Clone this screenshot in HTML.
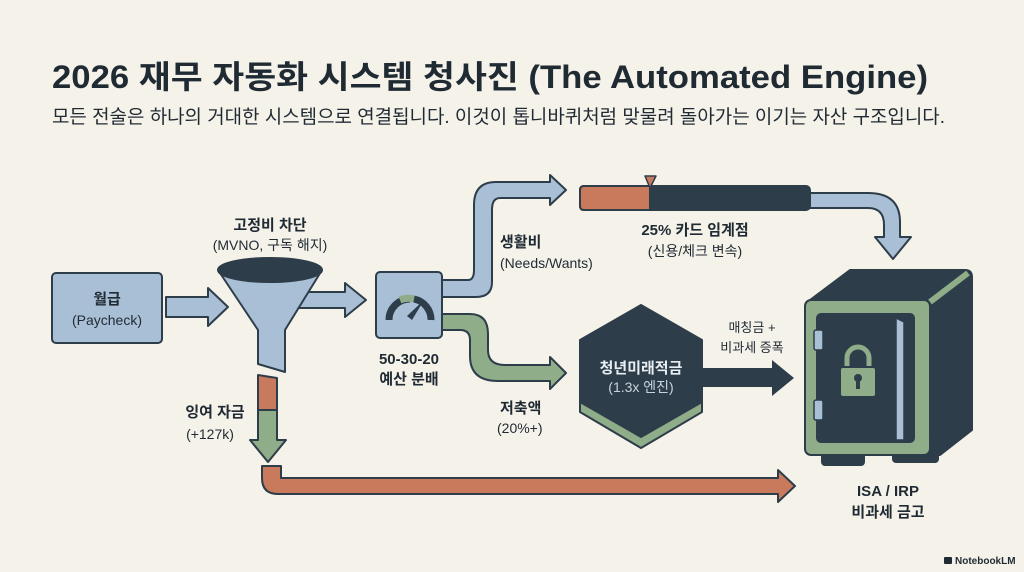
<!DOCTYPE html>
<html><head><meta charset="utf-8"><style>
html,body{margin:0;padding:0;background:#f5f2ea;}
svg{display:block;}
text{font-family:"Liberation Sans","Noto Sans CJK KR",sans-serif;fill:#1f2a33;}
.b{font-weight:bold;}
</style></head><body>
<svg width="1024" height="572" viewBox="0 0 1024 572" xmlns="http://www.w3.org/2000/svg">
<rect width="1024" height="572" fill="#f5f2ea"/>
<text x="52" y="88" font-size="32" class="b" textLength="876" lengthAdjust="spacingAndGlyphs">2026 재무 자동화 시스템 청사진 (The Automated Engine)</text>
<text x="52" y="123" font-size="19" textLength="893" lengthAdjust="spacingAndGlyphs">모든 전술은 하나의 거대한 시스템으로 연결됩니다. 이것이 톱니바퀴처럼 맞물려 돌아가는 이기는 자산 구조입니다.</text>

<g stroke="#2e3d4a" stroke-width="2" stroke-linejoin="round">
<!-- salary box -->
<rect x="52" y="273" width="110" height="70" rx="4" fill="#a9bfd6"/>
<!-- arrow salary->funnel -->
<path d="M166,297 H208 V288 L228,307 L208,326 V317 H166 Z" fill="#a9bfd6"/>
<!-- funnel->gauge arrow -->
<path d="M290,292 H345 V283 L366,300 L345,317 V308 H290 Z" fill="#a9bfd6"/>
<!-- funnel -->
<path d="M218,270 L258,330 L258,364 L285,372 L285,330 L322,270 Z" fill="#a9bfd6"/>
<ellipse cx="270" cy="270" rx="52" ry="12" fill="#2e3d4a"/>
<!-- surplus vertical -->
<path d="M258,375 L277,378 L277,410 L258,410 Z" fill="#c97a5c"/>
<path d="M258,410 H277 V440 H286 L268,462 L250,440 H258 Z" fill="#8fad88"/>
<!-- orange L -->
<path d="M262,466 V478 Q262,494 278,494 H778 V502 L795,486 L778,470 V478 H281 Q281,478 281,466 Z" fill="#c97a5c"/>
<!-- blue up path -->
<path d="M442,280 H468 Q474,280 474,270 V205 Q474,182 496,182 H550 V175 L566,190 L550,205 V198 H500 Q492,198 492,210 V282 Q492,297 476,297 H442 Z" fill="#a9bfd6"/>
<!-- green down path -->
<path d="M442,314 H470 Q488,314 488,334 V350 Q488,365 505,365 H550 V357 L566,373 L550,389 V381 H498 Q470,381 470,356 V340 Q470,330 460,330 H442 Z" fill="#8fad88"/>
<!-- gauge box -->
<rect x="376" y="272" width="66" height="66" rx="4" fill="#a9bfd6"/>
</g>
<!-- gauge -->
<path d="M389,320 A21,21 0 0 1 410,299" fill="none" stroke="#2e3d4a" stroke-width="7"/>
<path d="M400,300 A21,21 0 0 1 414,299" fill="none" stroke="#8fad88" stroke-width="7"/>
<path d="M414,299 A21,21 0 0 1 431,320" fill="none" stroke="#2e3d4a" stroke-width="7"/>
<path d="M407,316 L424,300 L412,320 Z" fill="#2e3d4a"/>

<g stroke="#2e3d4a" stroke-width="2" stroke-linejoin="round">
<!-- bar to safe path -->
<path d="M805,193 H868 Q900,193 900,222 V237 H911 L893,259 L875,237 H884 V225 Q884,208 868,208 H805 Z" fill="#a9bfd6"/>
<!-- bar -->
<rect x="580" y="186" width="230" height="24" rx="4" fill="#2e3d4a"/>
<path d="M584,186 H650 V210 H584 Q580,210 580,206 V190 Q580,186 584,186 Z" fill="#c97a5c"/>
<path d="M645,176 L656,176 L650,188 Z" fill="#c97a5c" stroke-width="1.5"/>
<!-- hexagon -->
<path d="M641,312 L702,347 L702,412 L641,448 L580,412 L580,347 Z" fill="#8fad88"/>
<path d="M641,305 L702,340 L702,402 L641,437 L580,402 L580,340 Z" fill="#2e3d4a"/>
<!-- dark arrow -->
<path d="M702,368 H772 V360 L794,378 L772,396 V387 H702 Z" fill="#2e3d4a" stroke="none"/>
<!-- safe -->
<path d="M810,300 L850,270 L965,270 Q972,270 972,277 L972,430 L940,455 L820,455 Z" fill="#2e3d4a"/>
<path d="M930,302 L968,273" stroke="#8fad88" stroke-width="6"/>
<rect x="893" y="440" width="45" height="22" rx="3" fill="#2e3d4a"/>
<rect x="822" y="445" width="42" height="20" rx="3" fill="#2e3d4a"/>
<rect x="805" y="300" width="125" height="155" rx="6" fill="#8fad88"/>
<rect x="817" y="314" width="97" height="128" rx="4" fill="#2e3d4a"/>
<path d="M896,318 L904,322 L904,440 L896,440 Z" fill="#a9bfd6" stroke-width="1.5"/>
<rect x="814" y="330" width="9" height="20" rx="2" fill="#a9bfd6" stroke-width="1.5"/>
<rect x="814" y="400" width="9" height="20" rx="2" fill="#a9bfd6" stroke-width="1.5"/>
<path d="M847,367 V358 A11,11 0 0 1 869,358 V367" fill="none" stroke="#8fad88" stroke-width="5"/>
<rect x="840" y="367" width="36" height="30" rx="3" fill="#8fad88"/>
</g>
<circle cx="858" cy="378" r="4" fill="#2e3d4a"/><rect x="856" y="380" width="4" height="9" fill="#2e3d4a"/>

<!-- labels -->
<text x="107" y="304" font-size="15" class="b" text-anchor="middle">월급</text>
<text x="107" y="325" font-size="14" text-anchor="middle">(Paycheck)</text>
<text x="270" y="230" font-size="15" class="b" text-anchor="middle">고정비 차단</text>
<text x="270" y="250" font-size="14" text-anchor="middle">(MVNO, 구독 해지)</text>
<text x="409" y="364" font-size="15" class="b" text-anchor="middle">50-30-20</text>
<text x="409" y="384" font-size="15" class="b" text-anchor="middle">예산 분배</text>
<text x="500" y="247" font-size="15" class="b">생활비</text>
<text x="500" y="268" font-size="14">(Needs/Wants)</text>
<text x="500" y="413" font-size="15" class="b">저축액</text>
<text x="497" y="433" font-size="14">(20%+)</text>
<text x="215" y="417" font-size="15" class="b" text-anchor="middle">잉여 자금</text>
<text x="210" y="439" font-size="14" text-anchor="middle">(+127k)</text>
<text x="695" y="235" font-size="15" class="b" text-anchor="middle">25% 카드 임계점</text>
<text x="695" y="256" font-size="14" text-anchor="middle">(신용/체크 변속)</text>
<text x="641" y="373" font-size="15" class="b" text-anchor="middle" style="fill:#e8eef2">청년미래적금</text>
<text x="641" y="392" font-size="14" text-anchor="middle" style="fill:#c8d4dd">(1.3x 엔진)</text>
<text x="752" y="332" font-size="13" text-anchor="middle">매칭금 +</text>
<text x="752" y="352" font-size="13" text-anchor="middle">비과세 증폭</text>
<text x="888" y="496" font-size="15" class="b" text-anchor="middle">ISA / IRP</text>
<text x="888" y="517" font-size="15" class="b" text-anchor="middle">비과세 금고</text>
<rect x="944" y="557" width="8" height="7" rx="1" fill="#1f2a33"/>
<text x="955" y="564" font-size="10" class="b">NotebookLM</text>
</svg>
</body></html>
